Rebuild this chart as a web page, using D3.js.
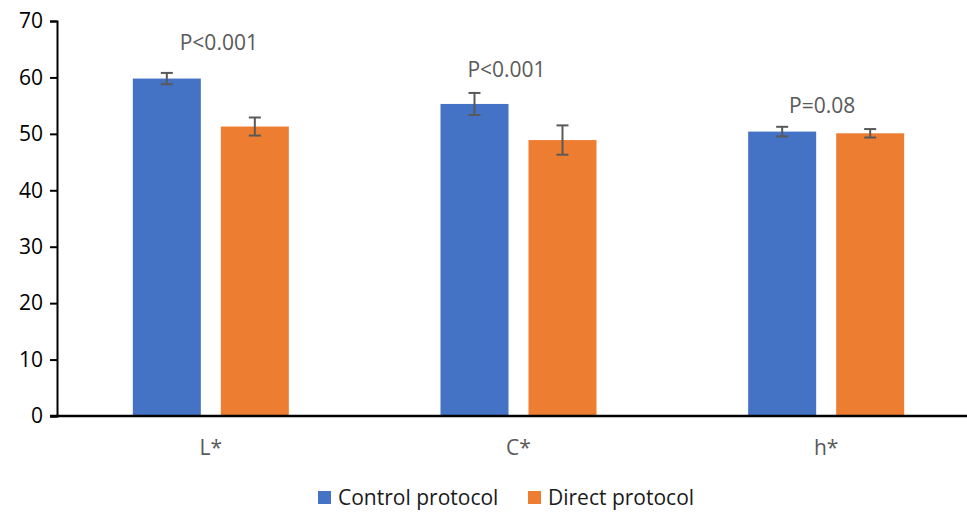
<!DOCTYPE html>
<html>
<head>
<meta charset="utf-8">
<script src="https://cdn.jsdelivr.net/npm/d3@7"></script>
<style>
  html, body { margin: 0; padding: 0; background: #fff; }
  svg { display: block; font-family: "Open Sans", Lato, sans-serif; }
</style>
</head>
<body>
<svg id="chart" width="967" height="512"></svg>
<script>
// CIELCh colour coordinates, mean ± SD per protocol
const categories = ["L*", "C*", "h*"];
const seriesNames = ["Control protocol", "Direct protocol"];
const controlMeans = [59.8, 55.3, 50.4];
const controlErrors = [1.0, 1.95, 0.85];
const directMeans = [51.3, 48.9, 50.1];
const directErrors = [1.6, 2.6, 0.75];
const pLabels = ["P<0.001", "P<0.001", "P=0.08"];
const pLabelLevels = [64.9, 60.1, 53.7];
const yTicks = [0, 10, 20, 30, 40, 50, 60, 70];

const colors = ["#4472C4", "#ED7D31"];
const FONT = "'Open Sans', Lato, sans-serif";
const FS = 21;

const svg = d3.select("#chart");
const margin = { left: 57, top: 21, bottom: 416 };

// category bands continue past the right edge of the canvas
const x = d3.scaleBand().domain(categories).range([57, 980]);
const y = d3.scaleLinear().domain([0, 70]).range([margin.bottom, margin.top]);

const groupW = 156, barW = 68;
const groupOffset = (x.bandwidth() - groupW) / 2;
const barX = s => s === seriesNames[0] ? 0 : groupW - barW;

const data = categories.map((c, i) => ({
  cat: c,
  values: [
    { s: seriesNames[0], v: controlMeans[i], e: controlErrors[i], color: colors[0] },
    { s: seriesNames[1], v: directMeans[i], e: directErrors[i], color: colors[1] }
  ]
}));

// bars
const groups = svg.append("g").selectAll("g").data(data).join("g")
  .attr("transform", d => `translate(${x(d.cat) + groupOffset},0)`);

groups.selectAll("rect").data(d => d.values).join("rect")
  .attr("x", d => barX(d.s))
  .attr("y", d => y(d.v))
  .attr("width", barW)
  .attr("height", d => y(0) - y(d.v))
  .attr("fill", d => d.color);

// error bars
const eb = groups.selectAll("g.err").data(d => d.values).join("g").attr("class", "err")
  .attr("stroke", "#595959").attr("stroke-width", 2);
eb.append("line")
  .attr("x1", d => barX(d.s) + barW / 2).attr("x2", d => barX(d.s) + barW / 2)
  .attr("y1", d => y(d.v + d.e)).attr("y2", d => y(d.v - d.e));
eb.append("line")
  .attr("x1", d => barX(d.s) + barW / 2 - 6).attr("x2", d => barX(d.s) + barW / 2 + 6)
  .attr("y1", d => y(d.v + d.e)).attr("y2", d => y(d.v + d.e));
eb.append("line")
  .attr("x1", d => barX(d.s) + barW / 2 - 6).attr("x2", d => barX(d.s) + barW / 2 + 6)
  .attr("y1", d => y(d.v - d.e)).attr("y2", d => y(d.v - d.e));

// significance labels
const pOffsets = [8, -12, -4];
svg.append("g").selectAll("text").data(categories).join("text")
  .attr("x", (c, i) => x(c) + x.bandwidth() / 2 + pOffsets[i])
  .attr("y", (c, i) => y(pLabelLevels[i]))
  .attr("text-anchor", "middle")
  .attr("fill", "#595959")
  .attr("font-size", FS)
  .text((c, i) => pLabels[i]);

// y axis
const yAxis = svg.append("g")
  .attr("transform", `translate(${margin.left},0)`)
  .call(d3.axisLeft(y).tickValues(yTicks).tickSize(7).tickPadding(7));
yAxis.select(".domain").attr("stroke", "#000").attr("stroke-width", 2);
yAxis.selectAll(".tick line").attr("stroke", "#000").attr("stroke-width", 2);
yAxis.selectAll(".tick text").attr("font-size", FS).attr("fill", "#000")
  .attr("font-family", FONT);

// x axis baseline and category labels
svg.append("line")
  .attr("x1", margin.left - 7).attr("x2", 967)
  .attr("y1", y(0)).attr("y2", y(0))
  .attr("stroke", "#000").attr("stroke-width", 2.5);

svg.append("g").selectAll("text").data(categories).join("text")
  .attr("x", c => x(c) + x.bandwidth() / 2)
  .attr("y", 455)
  .attr("text-anchor", "middle")
  .attr("fill", "#595959")
  .attr("font-size", FS)
  .text(c => c);

// legend
const legendItems = [
  { name: seriesNames[0], color: colors[0], x: 318 },
  { name: seriesNames[1], color: colors[1], x: 528 }
];
const lg = svg.append("g").selectAll("g").data(legendItems).join("g")
  .attr("transform", d => `translate(${d.x},491)`);
lg.append("rect").attr("width", 13).attr("height", 13).attr("fill", d => d.color);
lg.append("text").attr("x", 20).attr("y", 14)
  .attr("font-size", FS).attr("fill", "#1a1a1a")
  .text(d => d.name);
</script>
</body>
</html>
